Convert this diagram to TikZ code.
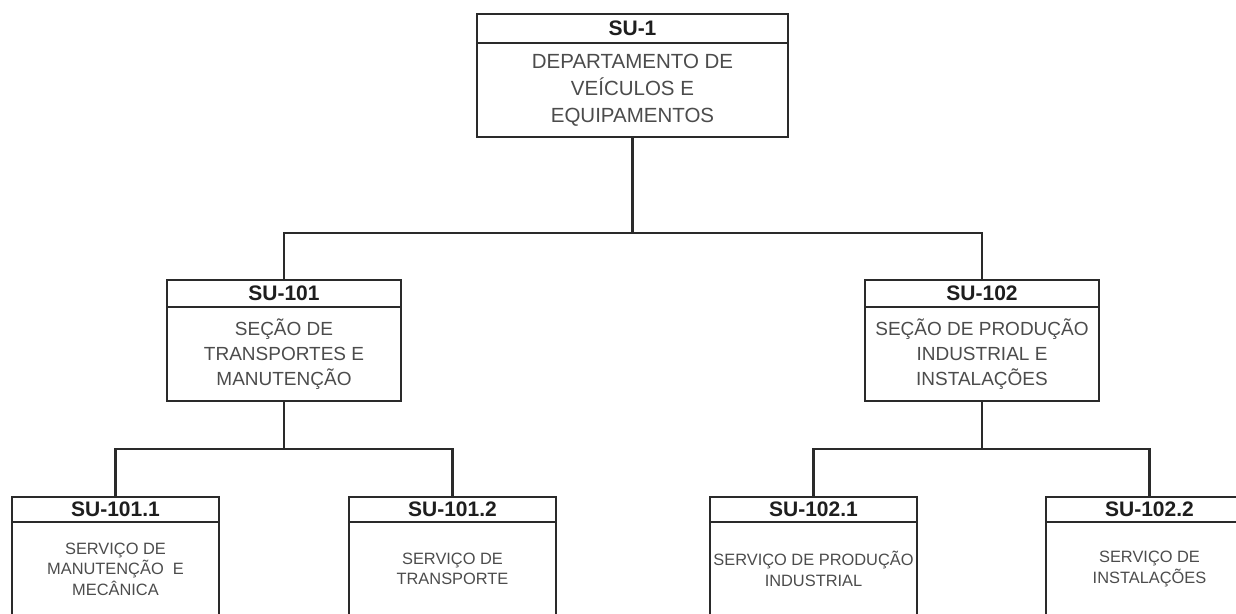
\documentclass[tikz,border=0pt]{standalone}
\usepackage{fontspec}
\setmainfont{Liberation Sans}
\definecolor{lineclr}{HTML}{2A2A2A}
\definecolor{hdrclr}{HTML}{1E1E1E}
\definecolor{bodyclr}{HTML}{4C4C4C}
\begin{document}
\begin{tikzpicture}[x=1pt,y=-1pt,
  box/.style={draw=lineclr, line width=2.2pt, rectangle, inner sep=0pt, outer sep=0pt, fill=white},
  hdr/.style={box, text=hdrclr, font=\fontsize{21}{21}\selectfont\bfseries},
  bodyA/.style={box, text=bodyclr, align=center, anchor=north, font=\fontsize{20.5}{27}\selectfont},
  bodyB/.style={box, text=bodyclr, align=center, anchor=north, font=\fontsize{19}{25}\selectfont},
  bodyC/.style={box, text=bodyclr, align=center, anchor=north, font=\fontsize{16.4}{20.5}\selectfont},
  conn/.style={draw=lineclr, line width=2.2pt}]
\useasboundingbox (0,0) rectangle (1236,613);
\fill[white] (0,0) rectangle (1236,613);
\clip (0,0) rectangle (1236,613);

% top
\node[hdr, minimum width=311, minimum height=29] (h1) at (632.5,28.5) {SU-1};
\node[bodyA, minimum width=311, minimum height=94] (b1) at (h1.south) {DEPARTAMENTO DE\\VEÍCULOS E\\EQUIPAMENTOS};

% middle
\node[hdr, minimum width=234, minimum height=27] (h101) at (284,293.5) {SU-101};
\node[bodyB, minimum width=234, minimum height=94] (b101) at (h101.south) {SEÇÃO DE\\TRANSPORTES E\\MANUTENÇÃO};
\node[hdr, minimum width=234, minimum height=27] (h102) at (982,293.5) {SU-102};
\node[bodyB, minimum width=234, minimum height=94] (b102) at (h102.south) {SEÇÃO DE PRODUÇÃO\\INDUSTRIAL E\\INSTALAÇÕES};

% bottom
\node[hdr, minimum width=207, minimum height=25] (h1011) at (115.5,509.5) {SU-101.1};
\node[bodyC, minimum width=207, minimum height=94] (b1011) at (h1011.south) {SERVIÇO DE\\MANUTENÇÃO\ \ E\\MECÂNICA};
\node[hdr, minimum width=207, minimum height=25] (h1012) at (452.5,509.5) {SU-101.2};
\node[bodyC, minimum width=207, minimum height=94] (b1012) at (h1012.south) {SERVIÇO DE\\TRANSPORTE};
\node[hdr, minimum width=207, minimum height=25] (h1021) at (813.5,509.5) {SU-102.1};
\node[bodyC, minimum width=207, minimum height=94] (b1021) at (h1021.south) {SERVIÇO DE PRODUÇÃO\\INDUSTRIAL};
\node[hdr, minimum width=207, minimum height=25] (h1022) at (1149.5,509.5) {SU-102.2};
\node[bodyC, minimum width=207, minimum height=94] (b1022) at (h1022.south) {SERVIÇO DE\\INSTALAÇÕES};

% junctions
\coordinate (j1) at (632.5,233);
\coordinate (j101) at (284,449);
\coordinate (j102) at (982,449);

\draw[conn] (b1.south) -- (j1);
\draw[conn] (h101.north) |- (j1) -| (h102.north);
\draw[conn] (b101.south) -- (j101);
\draw[conn] (h1011.north) |- (j101) -| (h1012.north);
\draw[conn] (b102.south) -- (j102);
\draw[conn] (h1021.north) |- (j102) -| (h1022.north);
\end{tikzpicture}
\end{document}
